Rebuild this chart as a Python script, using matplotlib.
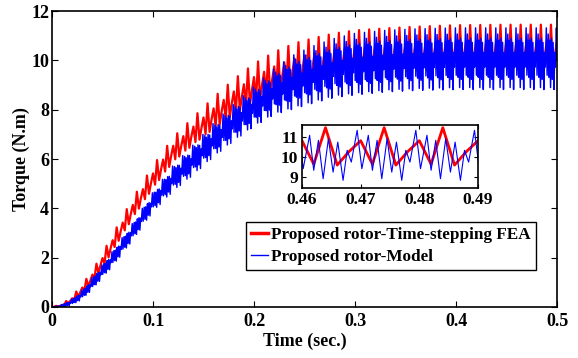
import numpy as np
import matplotlib
matplotlib.use('Agg')
import matplotlib.pyplot as plt

# ---- data ----
# slow trend (mean torque) and ripple scale of each series
trend_t = [0, 0.01, 0.02, 0.03, 0.04, 0.05, 0.06, 0.08, 0.10, 0.12, 0.14, 0.16,
           0.18, 0.20, 0.22, 0.24, 0.26, 0.28, 0.30, 0.33, 0.36, 0.40, 0.45, 0.50]
red_mean = [0, 0.06, 0.3, 0.7, 1.2, 1.85, 2.55, 3.95, 5.2, 6.3, 7.05, 7.75,
            8.4, 8.95, 9.35, 9.65, 9.85, 10.0, 10.12, 10.2, 10.27, 10.33, 10.35, 10.35]
red_scale = [0, 0.05, 0.12, 0.2, 0.25, 0.3, 0.35, 0.42, 0.48, 0.53, 0.59, 0.68,
             0.76, 0.83, 0.9, 0.95, 0.97, 1.0, 1.0, 1.0, 1.0, 1.0, 1.0, 1.0]
blue_mean = [0, 0.04, 0.2, 0.5, 0.95, 1.45, 1.95, 3.05, 4.25, 5.2, 5.95, 6.75,
             7.45, 8.1, 8.7, 9.1, 9.4, 9.65, 9.8, 9.92, 9.98, 10.02, 10.02, 10.02]
blue_scale = [0, 0.05, 0.1, 0.15, 0.2, 0.22, 0.25, 0.28, 0.32, 0.42, 0.49, 0.55,
              0.6, 0.65, 0.75, 0.88, 0.93, 0.96, 1.0, 1.0, 1.0, 1.0, 1.0, 1.0]

# one 10 ms ripple cycle at steady state
red_step = 0.002
red_cycle = [10.8, 9.63, 11.45, 9.58, 10.25]
red_cycle_mean = 10.35
blue_cycle_ms = [0.2, 1.3, 2.0, 2.8, 3.6, 4.5, 5.3, 6.1, 7.0, 7.7, 8.4, 9.4]
blue_cycle = [9.4, 11.07, 9.32, 10.82, 8.9, 10.9, 9.23, 10.73, 8.82, 10.32, 9.73, 11.32]
blue_cycle_mean = 10.02
cycle_len = 0.01
n_cycles = 50

labels = ['Proposed rotor-Time-stepping FEA', 'Proposed rotor-Model']
xticks = [0, 0.1, 0.2, 0.3, 0.4, 0.5]
yticks = [0, 2, 4, 6, 8, 10, 12]
inset_xticks = [0.46, 0.47, 0.48, 0.49]
inset_yticks = [9, 10, 11]

# ---- assemble series ----
t_red = np.arange(0, 0.5 + 1e-9, red_step)
k = np.rint(t_red / red_step).astype(int) % len(red_cycle)
red = (np.interp(t_red, trend_t, red_mean)
       + np.interp(t_red, trend_t, red_scale) * (np.array(red_cycle)[k] - red_cycle_mean))

t_blue = (np.arange(n_cycles)[:, None] * cycle_len
          + np.array(blue_cycle_ms)[None, :] / 1000.0).ravel()
dev_blue = np.tile(np.array(blue_cycle) - blue_cycle_mean, n_cycles)
blue = (np.interp(t_blue, trend_t, blue_mean)
        + np.interp(t_blue, trend_t, blue_scale) * dev_blue)
t_blue = np.concatenate([[0.0], t_blue, [0.5]])
blue = np.concatenate([[0.0], blue, [np.interp(0.5, trend_t, blue_mean)]])

# ---- plot ----
plt.rcParams['font.family'] = ['Liberation Serif', 'DejaVu Serif']
plt.rcParams['font.weight'] = 'bold'

fig = plt.figure(figsize=(5.78, 3.58), dpi=100)
ax = fig.add_axes([0.090, 0.1425, 0.8737, 0.8265])
ax.plot(t_red, red, color='#ff0000', lw=1.6, label=labels[0])
ax.plot(t_blue, blue, color='#0000ff', lw=1.05, label=labels[1])
ax.set_xlim(0, 0.5)
ax.set_ylim(0, 12)
ax.set_xticks(xticks)
ax.set_xticklabels(['0', '0.1', '0.2', '0.3', '0.4', '0.5'])
ax.set_yticks(yticks)
ax.tick_params(direction='in', top=True, right=True, length=4, width=0.8,
               labelsize=13)
ax.tick_params(axis='x', pad=4)
ax.tick_params(axis='y', pad=2)
for lab in ax.get_xticklabels() + ax.get_yticklabels():
    lab.set_fontweight('bold')
for s in ax.spines.values():
    s.set_linewidth(1.2)
ax.set_xlabel('Time (sec.)', fontsize=13, fontweight='bold', labelpad=2)
ax.set_ylabel('Torque (N.m)', fontsize=13, fontweight='bold', labelpad=1)

leg = ax.legend(loc='lower right', bbox_to_anchor=(0.958, 0.125),
                borderaxespad=0, fancybox=False, framealpha=1,
                edgecolor='black', handlelength=0.95, handletextpad=0.2,
                borderpad=0.3, labelspacing=0.32,
                prop={'family': 'Liberation Serif', 'weight': 'bold', 'size': 12.3})
leg.get_frame().set_linewidth(1.0)
leg.get_lines()[0].set_linewidth(2.5)
leg.get_lines()[1].set_linewidth(1.0)

ins = fig.add_axes([0.5225, 0.474, 0.3045, 0.1777])
ins.plot(t_red, red, color='#ff0000', lw=2.0)
ins.plot(t_blue, blue, color='#0000ff', lw=0.8)
ins.set_xlim(0.46, 0.49)
ins.set_ylim(8.42, 11.6)
ins.set_xticks(inset_xticks)
ins.set_xticklabels(['0.46', '0.47', '0.48', '0.49'])
ins.set_yticks(inset_yticks)
ins.tick_params(direction='in', top=True, right=True, length=3, width=0.8,
                labelsize=12.5, pad=3)
for lab in ins.get_xticklabels() + ins.get_yticklabels():
    lab.set_fontweight('bold')
for s in ins.spines.values():
    s.set_linewidth(1.2)

fig.savefig('out.png', dpi=100)
